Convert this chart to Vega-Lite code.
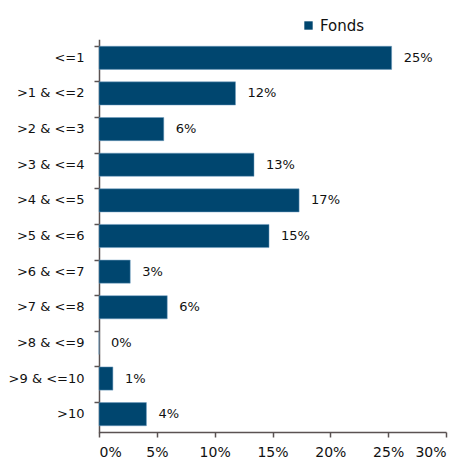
{
  "$schema": "https://vega.github.io/schema/vega-lite/v6.json",
  "width": 347,
  "height": 392,
  "autosize": {"type": "none"},
  "padding": {"left": 99, "top": 40, "right": 28, "bottom": 31},
  "background": "white",
  "config": {
    "view": {"stroke": null},
    "font": "DejaVu Sans",
    "axis": {
      "domainColor": "#5a5252",
      "tickColor": "#5a5252",
      "domainWidth": 1.5,
      "tickWidth": 1.5,
      "grid": false,
      "labelColor": "#111111",
      "title": null
    }
  },
  "data": {
    "values": [
      {"bucket": "<=1", "share": 0.253, "series": "Fonds"},
      {"bucket": ">1 & <=2", "share": 0.118, "series": "Fonds"},
      {"bucket": ">2 & <=3", "share": 0.056, "series": "Fonds"},
      {"bucket": ">3 & <=4", "share": 0.134, "series": "Fonds"},
      {"bucket": ">4 & <=5", "share": 0.173, "series": "Fonds"},
      {"bucket": ">5 & <=6", "share": 0.147, "series": "Fonds"},
      {"bucket": ">6 & <=7", "share": 0.027, "series": "Fonds"},
      {"bucket": ">7 & <=8", "share": 0.059, "series": "Fonds"},
      {"bucket": ">8 & <=9", "share": 0.0, "series": "Fonds"},
      {"bucket": ">9 & <=10", "share": 0.012, "series": "Fonds"},
      {"bucket": ">10", "share": 0.041, "series": "Fonds"}
    ]
  },
  "encoding": {
    "y": {
      "field": "bucket",
      "type": "nominal",
      "sort": null,
      "scale": {"paddingInner": 0.35, "paddingOuter": 0.175},
      "axis": {
        "bandPosition": 0,
        "tickSize": 5,
        "labelPadding": 10,
        "labelFontSize": 13,
        "domainCap": "square"
      }
    },
    "x": {
      "field": "share",
      "type": "quantitative",
      "scale": {"domain": [0, 0.3], "nice": false},
      "axis": {
        "values": [0, 0.05, 0.1, 0.15, 0.2, 0.25, 0.3],
        "format": ".0%",
        "tickSize": 5,
        "labelPadding": 8,
        "labelFontSize": 14
      }
    }
  },
  "layer": [
    {
      "mark": {"type": "bar", "stroke": "#6f9cc0", "strokeWidth": 0.5},
      "encoding": {
        "color": {
          "field": "series",
          "type": "nominal",
          "scale": {"range": ["#00466f"]},
          "legend": {
            "title": null,
            "orient": "none",
            "legendX": 202,
            "legendY": -22,
            "symbolType": "square",
            "symbolSize": 70,
            "symbolStrokeWidth": 0,
            "labelFontSize": 15,
            "labelColor": "#111111",
            "labelOffset": 4
          }
        }
      }
    },
    {
      "mark": {"type": "text", "align": "left", "dx": 12, "fontSize": 13, "color": "#111111"},
      "encoding": {
        "text": {"field": "share", "type": "quantitative", "format": ".0%"}
      }
    }
  ]
}
